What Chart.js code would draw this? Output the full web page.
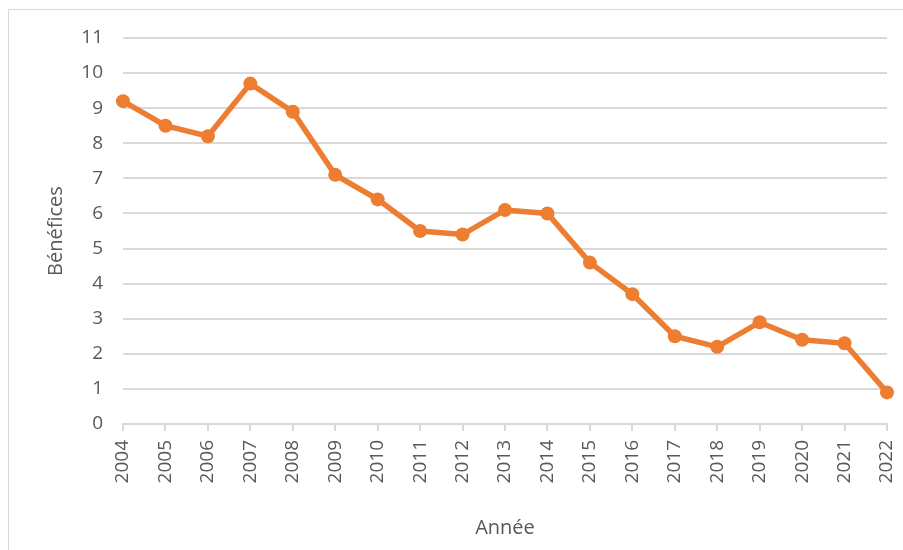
<!DOCTYPE html>
<html>
<head>
<meta charset="utf-8">
<script src="https://cdn.jsdelivr.net/npm/chart.js@4"></script>
<style>
    body { margin: 0; background: #fff; }
    #frame {
        position: absolute; left: 8px; top: 9px; width: 920px; height: 560px;
        border: 1px solid #d9d9d9; box-sizing: border-box;
    }
    #wrap { position: absolute; left: 0; top: 0; width: 903px; height: 550px; }
</style>
</head>
<body>
<div id="frame"></div>
<div id="wrap"><canvas id="myChart"></canvas></div>
<script>
const years = ['2004', '2005', '2006', '2007', '2008', '2009', '2010', '2011', '2012', '2013',
    '2014', '2015', '2016', '2017', '2018', '2019', '2020', '2021', '2022'];
const benefices = [9.2, 8.5, 8.2, 9.7, 8.9, 7.1, 6.4, 5.5, 5.4, 6.1,
    6.0, 4.6, 3.7, 2.5, 2.2, 2.9, 2.4, 2.3, 0.9];
const yMin = 0;
const yMax = 11;

const textColor = '#595959';
const gridColor = '#d9d9d9';
const orange = '#ED7D31';

const ctx = document.getElementById('myChart').getContext('2d');
const chart = new Chart(ctx, {
    type: 'line',
    data: {
        labels: years,
        datasets: [{
            label: 'Bénéfices',
            data: benefices,
            borderColor: orange,
            backgroundColor: orange,
            borderWidth: 5.5,
            pointRadius: 7,
            pointHoverRadius: 7,
            pointBorderWidth: 0,
            tension: 0
        }]
    },
    options: {
        responsive: true,
        maintainAspectRatio: false,
        animation: false,
        layout: { padding: { left: 0, top: 38, right: 16, bottom: 0 } },
        plugins: {
            legend: { display: false },
            tooltip: { enabled: false }
        },
        scales: {
            x: {
                offset: false,
                afterFit: (scale) => {
                    scale.height = 126;
                    scale.paddingLeft = 0;
                    scale.paddingRight = 0;
                },
                grid: {
                    drawOnChartArea: false,
                    drawTicks: true,
                    tickLength: 7,
                    color: gridColor,
                    lineWidth: 2
                },
                border: { color: gridColor, width: 2 },
                ticks: {
                    color: textColor,
                    font: { family: 'Open Sans', size: 19 },
                    minRotation: 90,
                    maxRotation: 90,
                    autoSkip: false,
                    padding: 9
                },
                title: {
                    display: true,
                    text: 'Année',
                    color: textColor,
                    font: { family: 'Open Sans', size: 20 },
                    padding: { top: 0, bottom: 10 }
                }
            },
            y: {
                min: yMin,
                max: yMax,
                afterFit: (scale) => { scale.width = 123; },
                grid: {
                    drawTicks: false,
                    color: gridColor,
                    lineWidth: 2
                },
                border: { display: false },
                ticks: {
                    stepSize: 1,
                    color: textColor,
                    font: { family: 'Open Sans', size: 19 },
                    padding: 20
                },
                title: {
                    display: true,
                    text: 'Bénéfices',
                    color: textColor,
                    font: { family: 'Open Sans', size: 20 },
                    padding: { top: 44, bottom: 0 }
                }
            }
        }
    }
});
</script>
</body>
</html>
